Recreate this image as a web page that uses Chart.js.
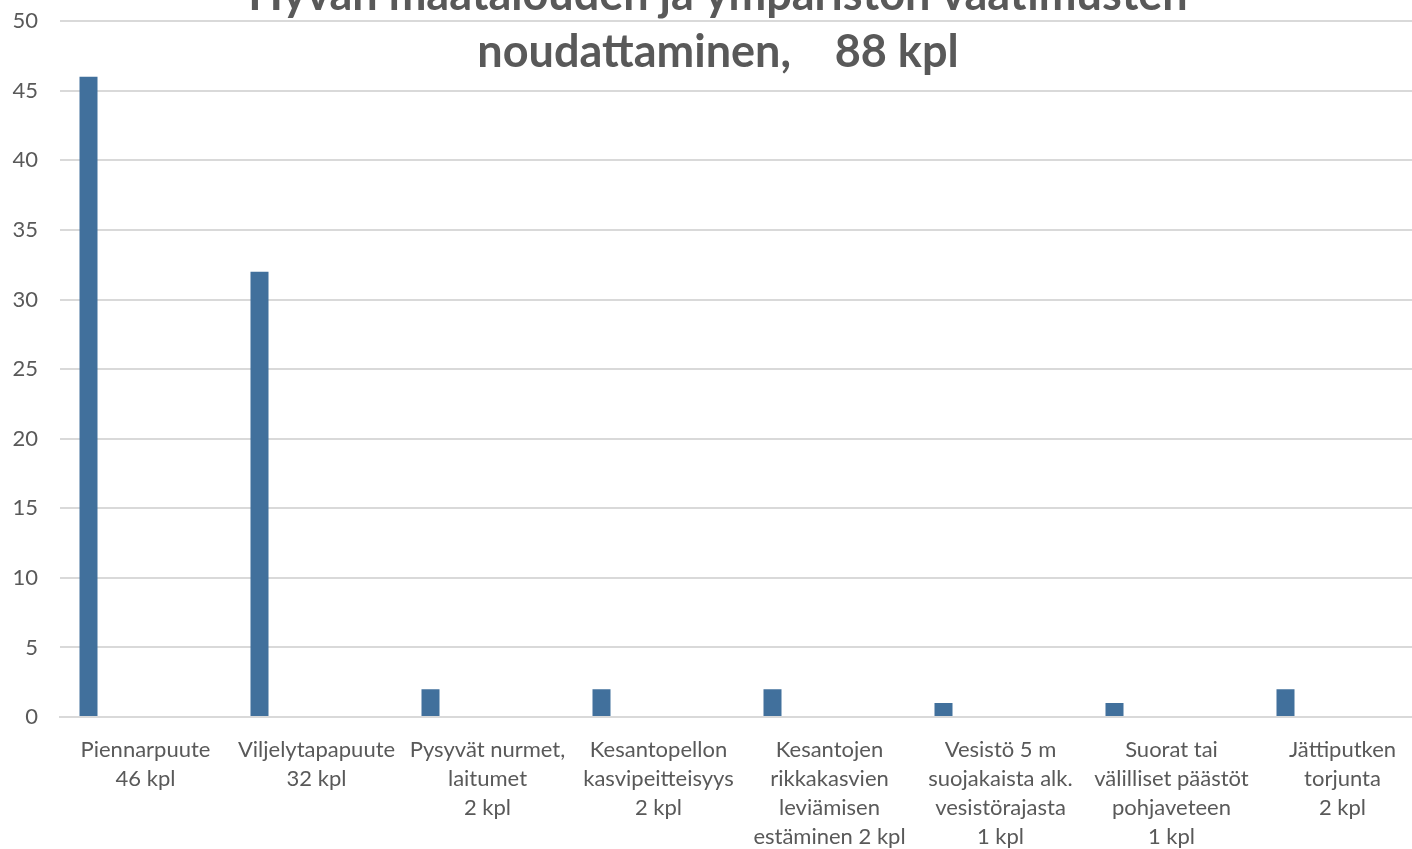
<!DOCTYPE html>
<html>
<head>
<meta charset="utf-8">
<script src="https://cdn.jsdelivr.net/npm/chart.js@4/dist/chart.umd.min.js"></script>
<style>
  html, body { margin: 0; padding: 0; background: #fff; overflow: hidden; }
  /* canvas a bit larger than the window: plot runs past the right edge like the original */
  #wrap { width: 1428px; height: 863px; margin-top: -14px; }
</style>
</head>
<body>
<div id="wrap"><canvas id="gaecChart"></canvas></div>
<script>
// chart data
const categories = [
    ["Piennarpuute", "46 kpl"],
    ["Viljelytapapuute", "32 kpl"],
    ["Pysyvät nurmet,", "laitumet", "2 kpl"],
    ["Kesantopellon", "kasvipeitteisyys", "2 kpl"],
    ["Kesantojen", "rikkakasvien", "leviämisen", "estäminen 2 kpl"],
    ["Vesistö 5 m", "suojakaista alk.", "vesistörajasta", "1 kpl"],
    ["Suorat tai", "välilliset päästöt", "pohjaveteen", "1 kpl"],
    ["Jättiputken", "torjunta", "2 kpl"]
];
const counts = [46, 32, 2, 2, 2, 1, 1, 2];
const yTicks = [0, 5, 10, 15, 20, 25, 30, 35, 40, 45, 50];
const titleLine1 = "Hyvän maatalouden ja ympäristön vaatimusten";
const titleLine2 = "noudattaminen,    88 kpl";

const textColor = "#595959";
const gridColor = "#d9d9d9";
const barColor = "#41709c";
const fontFamily = "Lato, 'Open Sans', sans-serif";

// title is drawn on top of the plot, like in the original sheet
const titlePlugin = {
    id: 'overlayTitle',
    afterDraw(chart) {
        const ctx = chart.ctx;
        ctx.save();
        ctx.fillStyle = textColor;
        ctx.font = "bold 45px " + fontFamily;
        ctx.textAlign = 'center';
        ctx.textBaseline = 'alphabetic';
        ctx.fillText(titleLine1, 718, 24);
        ctx.fillText(titleLine2, 718, 81);
        ctx.restore();
    }
};

const config = {
    type: 'bar',
    data: {
        labels: categories,
        datasets: [
            { data: counts, backgroundColor: barColor },
            // empty series kept so the bars sit on the left of each group
            { data: [], backgroundColor: barColor },
            { data: [], backgroundColor: barColor }
        ]
    },
    options: {
        responsive: true,
        maintainAspectRatio: false,
        animation: false,
        layout: {
            padding: { top: 7, right: 0, left: 0, bottom: 0 }
        },
        plugins: {
            legend: { display: false },
            tooltip: { enabled: false }
        },
        datasets: {
            bar: { categoryPercentage: 1.0, barPercentage: 0.316 }
        },
        scales: {
            x: {
                grid: { display: false, drawTicks: false },
                border: { display: true, color: gridColor, width: 2 },
                afterFit(scale) { scale.height = 132; },
                ticks: {
                    color: textColor,
                    font: { family: fontFamily, size: 22, lineHeight: 29 / 22 },
                    autoSkip: false,
                    maxRotation: 0,
                    minRotation: 0,
                    padding: 18
                }
            },
            y: {
                min: 0,
                max: 50,
                afterFit(scale) { scale.width = 60; },
                afterBuildTicks(scale) {
                    scale.ticks = yTicks.map(v => ({ value: v }));
                },
                grid: { color: gridColor, lineWidth: 2, drawTicks: false },
                border: { display: false },
                ticks: {
                    color: textColor,
                    font: { family: fontFamily, size: 22 },
                    padding: 22
                }
            }
        }
    },
    plugins: [titlePlugin]
};

const gaecChart = new Chart(document.getElementById('gaecChart'), config);
</script>
</body>
</html>
